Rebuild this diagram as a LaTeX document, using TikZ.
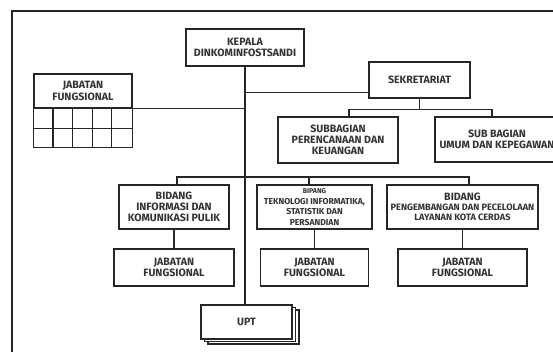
\documentclass[tikz,border=0pt]{standalone}
\usepackage{fontspec}
\setmainfont{Fira Sans}
\usetikzlibrary{shapes}
\usetikzlibrary{shadows}
\usetikzlibrary{calc}

\begin{document}
\begin{tikzpicture}[x=1pt,y=-1pt]
\tikzstyle{kotak}=[
        rectangle,
        draw=black!85,
        line width=1.2pt,
        fill=white,
        align=center,
        inner sep=1pt,
        text=black!80,
        font=\bfseries\fontsize{10.6}{11.3}\selectfont
]
\tikzstyle{hubung}=[draw=black!85,line width=1.2pt]
%batasgambar
\useasboundingbox (0,0) rectangle (553,351);
\clip (0,0) rectangle (553,351);
\draw[black!85,line width=1.8pt] (12,360) -- (12,11) -- (560,11);
%penempatankotak
\node[kotak,minimum width=118pt,minimum height=37pt] (kepala) at (245,47.5) {KEPALA\\DINKOMINFOSTSANDI};
\node[kotak,minimum width=98pt,minimum height=34pt] (jabfung) at (83,91) {JABATAN\\FUNGSIONAL};
\node[kotak,minimum width=101pt,minimum height=36pt] (sekre) at (419.5,80) {SEKRETARIAT};
\node[kotak,minimum width=120pt,minimum height=46pt] (subrenc) at (338,140) {SUBBAGIAN\\PERENCANAAN DAN\\KEUANGAN};
\node[kotak,minimum width=124pt,minimum height=45pt] (subumum) at (497,139.5) {SUB BAGIAN\\UMUM DAN KEPEGAWAN};
\node[kotak,minimum width=110pt,minimum height=44pt] (bidinfo) at (174,207) {BIDANG\\INFORMASI DAN\\KOMUNIKASI PULIK};
\node[kotak,minimum width=115pt,minimum height=44pt,font=\bfseries\fontsize{8.6}{10.5}\selectfont] (bidtek) at (314.5,207) {{\fontsize{7}{10.5}\selectfont BIPANG}\\TEKNOLOGI INFORMATIKA,\\STATISTIK DAN\\PERSANDIAN};
\node[kotak,minimum width=151pt,minimum height=44pt,font=\bfseries\fontsize{9.2}{10}\selectfont] (bidpeng) at (462.5,207) {{\fontsize{10.6}{10}\selectfont BIDANG}\\PENGEMBANGAN DAN PECELOLAAN\\LAYANAN KOTA CERDAS};
\node[kotak,minimum width=120pt,minimum height=37pt] (jf1) at (174,267.5) {JABATAN\\FUNGSIONAL};
\node[kotak,minimum width=108pt,minimum height=37pt] (jf2) at (314.5,267.5) {JABATAN\\FUNGSIONAL};
\node[kotak,minimum width=129pt,minimum height=37pt] (jf3) at (462.5,267.5) {JABATAN\\FUNGSIONAL};
\node[kotak,minimum width=91pt,minimum height=34pt,double copy shadow={shadow xshift=3.5pt,shadow yshift=-2.5pt}] (upt) at (246.5,322) {UPT};
%kisijabatan
\draw[hubung] (jabfung.south west) rectangle ($(jabfung.south east)+(0,39)$);
\draw[hubung] ($(jabfung.south west)+(0,19.5)$) -- ($(jabfung.south east)+(0,19.5)$);
\foreach \i in {1,...,4}
        \draw[hubung] ($(jabfung.south west)+(\i*19.6,0)$) -- ++(0,39);
%penempatangaris
\coordinate (sekmasuk) at ($(sekre.south west)+(0,-6)$);
\coordinate (bidbar) at (245,177);
\draw[hubung] (kepala.south) -- (kepala.south |- upt.north);
\draw[hubung] (jabfung.south east) -- (kepala.south |- jabfung.south east);
\draw[hubung] (kepala.south |- sekmasuk) -- (sekmasuk);
\draw[hubung] (sekre.south) -- ++(0,11) coordinate (sekbar);
\draw[hubung] ([xshift=11pt]subrenc.north) |- (sekbar) -| ([xshift=-5pt]subumum.north);
\draw[hubung] ([xshift=3pt]bidinfo.north) |- (bidbar) -| ([xshift=6.5pt]bidpeng.north);
\draw[hubung] ([xshift=-5.5pt]bidtek.north) -- ++(0,-8);
\draw[hubung] (bidinfo) -- (jf1);
\draw[hubung] (bidtek) -- (jf2);
\draw[hubung] (bidpeng) -- (jf3);
\end{tikzpicture}
\end{document}
